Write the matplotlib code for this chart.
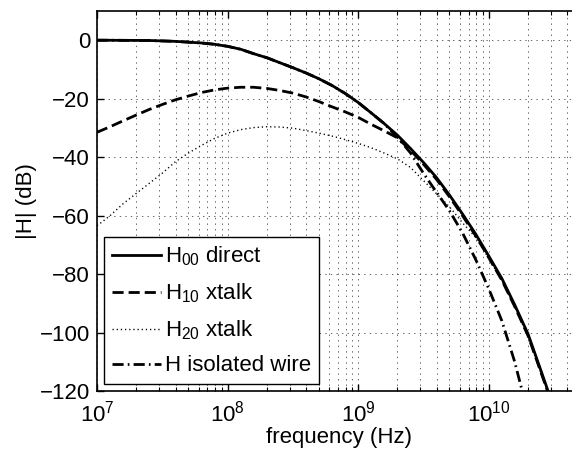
import matplotlib
matplotlib.use("Agg")
import matplotlib.pyplot as plt
from matplotlib.ticker import LogLocator

plt.rcParams['font.family'] = ['Liberation Sans', 'DejaVu Sans']
plt.rcParams['mathtext.fontset'] = 'custom'
plt.rcParams['mathtext.rm'] = 'Liberation Sans'
plt.rcParams['mathtext.it'] = 'Liberation Sans:italic'
plt.rcParams['mathtext.default'] = 'regular'
plt.rcParams['lines.scale_dashes'] = False

# values (Hz, dB)
freq = [1.0e7, 1.58e7, 2.51e7, 3.98e7, 6.31e7, 7.94e7, 1.0e8, 1.26e8, 1.58e8, 2.0e8,
        2.51e8, 3.16e8, 3.98e8, 5.01e8, 6.31e8, 7.94e8, 1.0e9, 1.26e9, 1.58e9, 2.0e9,
        2.51e9, 3.16e9, 3.98e9, 5.01e9, 6.31e9, 7.94e9, 1.0e10, 1.26e10, 1.58e10, 2.0e10,
        2.51e10, 2.82e10, 3.16e10]
h_direct = [0, -0.05, -0.1, -0.4, -0.95, -1.4, -2.1, -3.1, -4.6, -6.0,
            -7.7, -9.4, -11.2, -13.2, -15.5, -18.2, -21.3, -24.9, -28.5, -32.5,
            -37.0, -41.8, -47.0, -53.0, -59.5, -66.3, -73.8, -81.5, -90.5, -100.5,
            -113.0, -119.5, -126.0]

freq_x10 = [1.0e7, 1.26e7, 1.58e7, 2.0e7, 2.51e7, 3.16e7, 3.98e7, 5.01e7, 6.31e7, 7.94e7,
            1.0e8, 1.26e8, 1.58e8, 2.0e8, 2.51e8, 3.16e8, 3.98e8, 5.01e8, 6.31e8, 7.94e8,
            1.0e9, 1.26e9, 1.58e9, 2.0e9, 2.51e9, 3.16e9, 3.98e9, 5.01e9, 6.31e9, 7.94e9,
            1.0e10, 1.26e10, 1.58e10, 2.0e10, 2.51e10, 2.82e10, 3.16e10]
h_x10 = [-31.5, -29.6, -27.6, -25.6, -23.7, -22.0, -20.4, -19.1, -17.9, -17.0,
         -16.4, -16.1, -16.1, -16.5, -17.2, -18.1, -19.4, -21.0, -22.8, -24.5,
         -26.4, -28.8, -31.0, -33.4, -37.6, -42.4, -47.6, -53.6, -60.1, -66.9,
         -74.4, -82.1, -91.1, -101.1, -113.6, -120.1, -126.6]

freq_x20 = freq_x10
h_x20 = [-63.5, -60.0, -56.0, -52.4, -49.0, -45.5, -41.6, -38.6, -36.0, -33.6,
         -31.8, -30.6, -29.9, -29.6, -29.7, -30.1, -30.9, -31.8, -32.8, -34.0,
         -35.3, -36.8, -38.6, -40.6, -43.5, -48.0, -52.5, -57.0, -62.5, -67.5,
         -74.6, -82.3, -91.3, -101.3, -113.8, -120.3, -126.8]

freq_iso = [1.0e7, 1.58e7, 2.51e7, 3.98e7, 6.31e7, 7.94e7, 1.0e8, 1.26e8, 1.58e8, 2.0e8,
            2.51e8, 3.16e8, 3.98e8, 5.01e8, 6.31e8, 7.94e8, 1.0e9, 1.26e9, 1.58e9, 2.0e9,
            2.51e9, 3.16e9, 3.98e9, 5.01e9, 6.31e9, 7.94e9, 1.0e10, 1.26e10, 1.58e10, 1.78e10,
            2.0e10]
h_iso = [0, -0.05, -0.1, -0.4, -0.95, -1.4, -2.1, -3.1, -4.6, -6.0,
         -7.7, -9.4, -11.2, -13.2, -15.5, -18.2, -21.3, -24.9, -28.5, -33.2,
         -38.5, -45.5, -52.0, -58.4, -66.0, -75.0, -85.0, -96.0, -110.0, -119.0,
         -127.0]

labels = [r'H$_{00}$ direct', r'H$_{10}$ xtalk', r'H$_{20}$ xtalk', 'H isolated wire']
yticks = [-120, -100, -80, -60, -40, -20, 0]

fig = plt.figure(figsize=(5.72, 4.53), dpi=100)
ax = fig.add_axes([0.1696, 0.1369, 0.8444, 0.8389])

ax.semilogx(freq, h_direct, color='k', lw=2.0, label=labels[0])
ax.semilogx(freq_x10, h_x10, color='k', lw=2.0, linestyle=(0, (8, 3.6)), label=labels[1])
ax.semilogx(freq_x20, h_x20, color='k', lw=1.0, linestyle=(0, (0.9, 2.1)), label=labels[2])
ax.semilogx(freq_iso, h_iso, color='k', lw=2.0, linestyle=(0, (8, 3, 1.2, 3)), label=labels[3])

ax.set_xlim(1e7, 5e10)
ax.set_ylim(-120, 10)
ax.set_yticks(yticks)
ax.xaxis.set_major_locator(LogLocator(base=10, numticks=10))
ax.xaxis.set_minor_locator(LogLocator(base=10, subs=range(2, 10), numticks=20))

ax.grid(True, which='major', linestyle=(0, (1, 3)), color='0.3', lw=0.6)
ax.grid(True, which='minor', axis='x', linestyle=(0, (1, 3)), color='0.3', lw=0.6)
ax.tick_params(which='both', direction='in', top=True, right=True, labelsize=16)
ax.tick_params(which='major', length=5, width=1, pad=5)
ax.tick_params(axis='x', which='major', pad=7)
ax.tick_params(which='minor', length=3, width=0.8)
for s in ax.spines.values():
    s.set_linewidth(1.2)

ax.set_xlabel('frequency (Hz)', fontsize=16, labelpad=0)
ax.set_ylabel('|H| (dB)', fontsize=16, labelpad=2)

leg = ax.legend(loc='lower left', bbox_to_anchor=(0.0145, 0.018), borderaxespad=0,
                fancybox=False, edgecolor='k', framealpha=1, fontsize=16,
                handlelength=2.2, handletextpad=0.2, labelspacing=0.6,
                borderpad=0.35)
leg.get_frame().set_linewidth(1.0)

fig.savefig('out.png', dpi=100)
